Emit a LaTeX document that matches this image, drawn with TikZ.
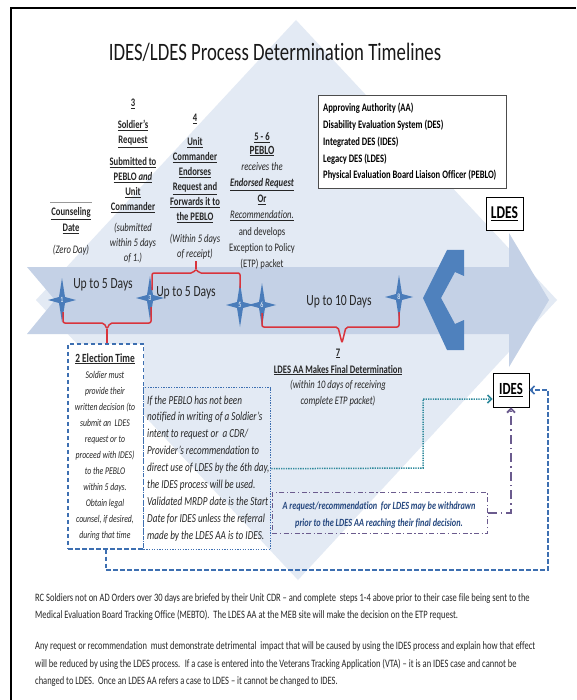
\documentclass[tikz,border=0pt]{standalone}
\usepackage{fontspec}
\setmainfont{Carlito}[FakeStretch=0.75, Ligatures={NoCommon,NoContextual}]
\usetikzlibrary{arrows.meta,calc}
\definecolor{diamondc}{HTML}{E3EAF4}
\definecolor{bandc}{HTML}{C4D1E6}
\definecolor{starc}{HTML}{4A7CBA}
\definecolor{chevc}{HTML}{4F81BD}
\definecolor{redc}{HTML}{D9343C}
\definecolor{bluec}{HTML}{3D6FB1}
\definecolor{tealc}{HTML}{2E8A9C}
\definecolor{purplec}{HTML}{6B5B8E}
\definecolor{txtc}{HTML}{262626}
\definecolor{navyc}{HTML}{26487F}
\newcommand{\fsz}[2]{\fontsize{#1}{#2}\selectfont}
\newcommand{\myul}[1]{\underline{#1}}
\newcommand{\colbox}[1]{\begin{tabular}[t]{@{}c@{}}#1\end{tabular}}
\newcommand{\colboxl}[1]{\begin{tabular}[t]{@{}l@{}}#1\end{tabular}}
\begin{document}
\begin{tikzpicture}[x=1pt,y=-1pt,
  every node/.style={text=txtc},
  coltxt/.style={anchor=base, inner sep=0pt},
  bandlbl/.style={inner sep=0pt, font=\fsz{15.5}{18}, text=black!85},
  snum/.style={inner sep=0pt, font=\fsz{8}{9}, text=white},
  redl/.style={draw=redc, line width=1.5pt, line join=round},
  blued/.style={draw=bluec, line width=1.5pt, dash pattern=on 4.5pt off 2.5pt},
  bluedot/.style={draw=bluec, line width=1.4pt, dash pattern=on 1.3pt off 1.3pt},
  teald/.style={draw=tealc, line width=1.5pt, dash pattern=on 1.3pt off 1.1pt},
  purpd/.style={draw=purplec, line width=1.8pt, dash pattern=on 9pt off 4pt on 1.5pt off 4pt},
  purpbox/.style={draw=purplec, line width=0.9pt, dash pattern=on 5pt off 2.5pt on 1.2pt off 2.5pt},
  tip/.style={-{Straight Barb[length=4pt,width=8pt]}},
  compass/.pic={\fill[starc] (0,-22) -- (3,-3) -- (14,0) -- (3,3) -- (0,22) -- (-3,3) -- (-14,0) -- (-3,-3) -- cycle;}
]
\useasboundingbox (0,0) rectangle (576,700);
\fill[white] (0,0) rectangle (576,700);
% background diamond and timeline band
\fill[diamondc] (296,20) -- (557,300) -- (298,580) -- (36,300) -- cycle;
\fill[bandc] (27,267) -- (509,267) -- (509,233) -- (549,300) -- (509,367) -- (509,334) -- (27,334) -- (55,300) -- cycle;
% frame
\draw[line width=2.5pt] (11,700) -- (11,8) -- (576,8);
% bent double chevron
\fill[chevc] (447,250) -- (464,250) -- (464,276) -- (455,272) -- (441,298) -- (455,324) -- (464,320) -- (464,350) -- (447,350) -- (423,298) -- cycle;

% title
\node[font=\fsz{25}{30}, text=black!90] (title) at (275,52) {IDES/LDES Process Determination Timelines};

% legend
\node[draw=black!70, line width=0.8pt, fill=white, anchor=north west, minimum width=188pt, minimum height=93pt, inner sep=0pt] (legend) at (318,95) {};
\node[anchor=base west, inner sep=0pt, font=\fsz{11.4}{16.75}\bfseries, text=black] (legtext) at (323,112) {\colboxl{Approving Authority (AA)\\
Disability Evaluation System (DES)\\
Integrated DES (IDES)\\
Legacy DES (LDES)\\
Physical Evaluation Board Liaison Officer (PEBLO)}};

% LDES / IDES boxes
\node[draw=black, line width=0.9pt, fill=white, minimum width=37pt, minimum height=33pt, inner sep=0pt, font=\fsz{18}{20}\bfseries, text=black] (ldes) at (504.5,213.5) {\myul{LDES}};
\node[draw=black, line width=0.9pt, fill=white, minimum width=36pt, minimum height=34pt, inner sep=0pt, font=\fsz{17}{20}\bfseries, text=black] (ides) at (511,390) {\myul{IDES}};

% column texts
\draw[black!40, line width=0.6pt] (50,202) -- (92,202);
\node[coltxt, font=\fsz{11.5}{16}] (c1) at (71,216) {\colbox{\textbf{\myul{Counseling}}\\
\textbf{\myul{Date}}\\[6pt]
\textit{(Zero Day)}}};
\node[coltxt, font=\fsz{11.5}{15}] (c3) at (133,107) {\colbox{\textbf{\myul{3}}\\[7pt]
\textbf{\myul{Soldier’s}}\\
\textbf{\myul{Request}}\\[7pt]
\textbf{\myul{Submitted to}}\\
\textbf{\myul{PEBLO \textit{and}}}\\
\textbf{\myul{Unit}}\\
\textbf{\myul{Commander}}\\[6pt]
\textit{(submitted}\\
\textit{within 5 days}\\
\textit{of 1.)}}};
\node[coltxt, font=\fsz{11.5}{15}] (c4) at (195,122) {\colbox{\textbf{\myul{4}}\\[9pt]
\textbf{\myul{Unit}}\\
\textbf{\myul{Commander}}\\
\textbf{\myul{Endorses}}\\
\textbf{\myul{Request and}}\\
\textbf{\myul{Forwards it to}}\\
\textbf{\myul{the PEBLO}}\\[7pt]
\textit{(Within 5 days}\\
\textit{of receipt)}}};
\node[coltxt, font=\fsz{11.5}{16.2}] (c5) at (262,141) {\colbox{\textbf{\myul{5 - 6}}\\[-3pt]
{\fsz{12.5}{16.2}\textbf{\myul{PEBLO}}}\\
\textit{receives the}\\
\textbf{\textit{\myul{Endorsed Request}}}\\
\textbf{\myul{Or}}\\
\textit{\myul{Recommendation.}}\\
and develops\\
Exception to Policy\\
(ETP) packet}};

% stars
\coordinate (s1) at (62,300);
\coordinate (s3) at (150,298);
\coordinate (s5) at (240,305);
\coordinate (s6) at (262,305);
\coordinate (s8) at (399,297);
\foreach \s in {s1,s3,s5,s6,s8} \pic at (\s) {compass};
\node[snum] (n1) at (s1) {1};
\node[snum] (n3) at (s3) {3};
\node[snum] (n5) at (s5) {5};
\node[snum] (n6) at (s6) {6};
\node[snum] (n8) at (s8) {8};

% band labels
\node[bandlbl] (u1) at (103,285) {Up to 5 Days};
\node[bandlbl] (u2) at (186,293) {Up to 5 Days};
\node[bandlbl] (u3) at (339,302) {Up to 10 Days};

% election box and dotted box
\node[blued, fill=white, anchor=north west, minimum width=75.5pt, minimum height=205pt, inner sep=0pt] (elec) at (67.3,343) {};
\node[bluedot, anchor=north west, minimum width=127pt, minimum height=162pt, inner sep=0pt] (dbox) at (143,387) {};
\node[coltxt, font=\fsz{10.3}{16}] (etext) at (105,362) {\colbox{{\fsz{12.5}{16}\textbf{\myul{2 Election Time}}}\\
\textit{Soldier must}\\
\textit{provide their}\\
\textit{written decision (to}\\
\textit{submit an~ LDES}\\
\textit{request or to}\\
\textit{proceed with IDES)}\\
\textit{to the PEBLO}\\
\textit{within 5 days.}\\
\textit{Obtain legal}\\
\textit{counsel, if desired,}\\
\textit{during that time}}};
\node[anchor=base west, inner sep=0pt, font=\fsz{12.2}{16.9}\itshape] (dtext) at (147,404) {\colboxl{If the PEBLO has not been\\
notified in writing of a Soldier’s\\
intent to request or~ a CDR/\\
Provider’s recommendation to\\
direct use of LDES by the 6th day,\\
the IDES process will be used.\\
Validated MRDP date is the Start\\
Date for IDES unless the referral\\
made by the LDES AA is to IDES.}};

% step 7
\node[coltxt, font=\fsz{11.5}{16}] (c7) at (338,356) {\colbox{\textbf{\myul{7}}\\[1pt]
\textbf{\myul{LDES AA Makes Final Determination}}\\[-1pt]
\textit{(within 10 days of receiving}\\
\textit{complete ETP packet)}}};

% withdrawal box
\node[purpbox, anchor=north west, minimum width=215pt, minimum height=41pt, inner sep=0pt] (wbox) at (272,492) {};
\node[coltxt, font=\fsz{11}{17}\bfseries\itshape, text=navyc] (wtext) at (379,509) {\colbox{A request/recommendation~ for LDES may be withdrawn\\
prior to the LDES AA reaching their final decision.}};

% red brackets
\coordinate (tipA) at (107,329);
\coordinate (tipB) at (196,269);
\coordinate (tipC) at (342,343);
\draw[redl, rounded corners=2pt] ($(s1)+(1,12)$) |- (104,323) -- (tipA) -- (110,323) -| ($(s3)+(1,9)$);
\draw[redl] (tipA) -- (tipA |- elec.north);
\draw[redl, rounded corners=2pt] ($(s3)+(2,-8)$) |- (193,273) -- (tipB) -- (199,273) -| ($(s5)+(0,-17)$);
\draw[redl] (tipB) -- ++(0,-8);
\draw[redl, rounded corners=2pt] ($(s6)+(0,8)$) |- (338,327) -- (tipC) -- (346,327) -| ($(s8)+(0,15)$);

% connectors
\coordinate (tealturn) at (423,468);
\coordinate (loopc) at (548,570);
\draw[teald, tip] (dbox.east) -- (tealturn) |- ([yshift=-9pt]ides.west);
\draw[purpd, tip] (wbox.east) -| (ides.south);
\draw[blued, tip] (elec.south) |- (loopc) |- (ides.east);

% footer
\node[anchor=base west, inner sep=0pt, font=\fsz{11.3}{17.5}, text=black!85] (foot) at (35,601) {\colboxl{RC Soldiers not on AD Orders over 30 days are briefed by their Unit CDR – and complete~ steps 1-4 above prior to their case file being sent to the\\
Medical Evaluation Board Tracking Office (MEBTO).~ The LDES AA at the MEB site will make the decision on the ETP request.\\[13.5pt]
Any request or recommendation~ must demonstrate detrimental~ impact that will be caused by using the IDES process and explain how that effect\\
will be reduced by using the LDES process.~ If a case is entered into the Veterans Tracking Application (VTA) – it is an IDES case and cannot be\\
changed to LDES.~ Once an LDES AA refers a case to LDES – it cannot be changed to IDES.}};
\end{tikzpicture}
\end{document}
